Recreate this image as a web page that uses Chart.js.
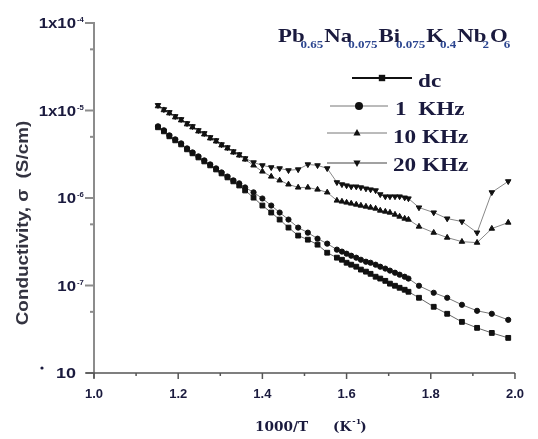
<!DOCTYPE html>
<html>
<head>
<meta charset="utf-8">
<title>Conductivity vs 1000/T</title>
<script src="https://cdn.jsdelivr.net/npm/chart.js@4/dist/chart.umd.min.js"></script>
<style>
	html, body { margin: 0; padding: 0; background: #fff; }
	#chart { display: block; }
</style>
</head>
<body>
<canvas id="chart" width="538" height="439"></canvas>
<script>
// 1000/T (K^-1), same temperatures for every series
const invT = [
	1.152, 1.166, 1.179, 1.193, 1.207, 1.221, 1.234, 1.248, 1.262, 1.276, 1.290, 1.303, 1.317, 1.331, 1.345, 1.359,
	1.379, 1.400, 1.421, 1.441, 1.462, 1.485, 1.508, 1.531, 1.554,
	1.577, 1.589, 1.600, 1.611, 1.623, 1.634, 1.646, 1.657, 1.669, 1.680, 1.692, 1.703, 1.715, 1.726, 1.738, 1.747,
	1.772, 1.807, 1.839, 1.874, 1.910, 1.945, 1.984
];

// conductivity, S/cm
const sigmaDc = [
	6.43e-6, 5.78e-6, 5.07e-6, 4.56e-6, 4.10e-6, 3.60e-6, 3.24e-6, 2.91e-6, 2.62e-6, 2.36e-6, 2.12e-6, 1.91e-6, 1.72e-6, 1.55e-6, 1.39e-6, 1.22e-6,
	1.01e-6, 8.20e-7, 6.82e-7, 5.67e-7, 4.59e-7, 3.72e-7, 3.34e-7, 2.93e-7, 2.37e-7,
	2.08e-7, 1.97e-7, 1.82e-7, 1.73e-7, 1.64e-7, 1.52e-7, 1.44e-7, 1.36e-7, 1.26e-7, 1.20e-7, 1.13e-7, 1.05e-7, 9.93e-8, 9.42e-8, 8.94e-8, 8.48e-8,
	7.24e-8, 5.71e-8, 4.75e-8, 3.84e-8, 3.28e-8, 2.87e-8, 2.52e-8
];
const sigma1k = [
	6.60e-6, 5.94e-6, 5.20e-6, 4.68e-6, 4.21e-6, 3.69e-6, 3.32e-6, 2.99e-6, 2.69e-6, 2.42e-6, 2.18e-6, 1.96e-6, 1.76e-6, 1.59e-6, 1.47e-6, 1.32e-6,
	1.16e-6, 9.87e-7, 8.20e-7, 6.82e-7, 5.67e-7, 4.59e-7, 4.02e-7, 3.43e-7, 3.01e-7,
	2.57e-7, 2.44e-7, 2.31e-7, 2.19e-7, 2.08e-7, 1.97e-7, 1.87e-7, 1.82e-7, 1.73e-7, 1.64e-7, 1.56e-7, 1.48e-7, 1.40e-7, 1.33e-7, 1.26e-7, 1.20e-7,
	9.93e-8, 8.26e-8, 7.24e-8, 6.02e-8, 5.14e-8, 4.75e-8, 4.05e-8
];
const sigma10k = [
	1.12e-5, 1.01e-5, 9.30e-6, 8.37e-6, 7.73e-6, 6.96e-6, 6.43e-6, 5.78e-6, 5.34e-6, 4.81e-6, 4.44e-6, 4.00e-6, 3.69e-6, 3.32e-6, 3.07e-6, 2.76e-6,
	2.36e-6, 2.01e-6, 1.76e-6, 1.59e-6, 1.43e-6, 1.32e-6, 1.32e-6, 1.25e-6, 1.16e-6,
	9.36e-7, 9.12e-7, 8.88e-7, 8.65e-7, 8.42e-7, 8.20e-7, 7.99e-7, 7.78e-7, 7.58e-7, 7.19e-7, 7.00e-7, 6.82e-7, 6.47e-7, 6.14e-7, 5.82e-7, 5.67e-7,
	4.72e-7, 4.02e-7, 3.53e-7, 3.17e-7, 3.09e-7, 4.47e-7, 5.24e-7
];
const sigma20k = [
	1.15e-5, 1.03e-5, 9.55e-6, 8.59e-6, 7.94e-6, 7.14e-6, 6.60e-6, 5.94e-6, 5.49e-6, 4.94e-6, 4.56e-6, 4.10e-6, 3.79e-6, 3.41e-6, 3.15e-6, 2.84e-6,
	2.55e-6, 2.36e-6, 2.24e-6, 2.18e-6, 2.07e-6, 2.12e-6, 2.42e-6, 2.36e-6, 2.18e-6,
	1.51e-6, 1.43e-6, 1.39e-6, 1.35e-6, 1.35e-6, 1.32e-6, 1.28e-6, 1.25e-6, 1.22e-6, 1.10e-6, 1.04e-6, 1.04e-6, 1.04e-6, 1.04e-6, 1.01e-6, 9.87e-7,
	7.78e-7, 6.82e-7, 5.82e-7, 5.38e-7, 4.02e-7, 1.16e-6, 1.55e-6
];

const seriesNames = ['dc', '1  KHz', '10 KHz', '20 KHz'];

// axis ticks
const yMajor = [1e-8, 1e-7, 1e-6, 1e-5, 1e-4];
const yMinor = [5e-8, 5e-7, 5e-6, 5e-5];
const yTickBase = ['10', '10', '10', '1x10', '1x10'];
const yTickExp = ['', '-7', '-6', '-5', '-4'];
const xMajor = [1.0, 1.2, 1.4, 1.6, 1.8, 2.0];
const xMinor = [1.1, 1.3, 1.5, 1.7, 1.9];

const formula = [
	['Pb', ''], ['0.65', 'sub'], ['Na', ''], ['0.075', 'sub'], ['Bi', ''], ['0.075', 'sub'],
	['K', ''], ['0.4', 'sub'], ['Nb', ''], ['2', 'sub'], ['O', ''], ['6', 'sub']
];

const INK = '#1a1a3e';
const SANS = '"Liberation Sans", Arial, sans-serif';
const SERIF = '"Liberation Serif", "Times New Roman", serif';

const line = (ctx, x1, y1, x2, y2) => {
	ctx.beginPath();
	ctx.moveTo(x1, y1);
	ctx.lineTo(x2, y2);
	ctx.stroke();
};

// text squeezed/stretched horizontally, the way the figure was scanned
const wideText = (ctx, text, x, y, font, color, sx, align) => {
	ctx.save();
	ctx.font = font;
	ctx.fillStyle = color;
	ctx.textAlign = align || 'left';
	ctx.textBaseline = 'alphabetic';
	ctx.translate(x, y);
	ctx.scale(sx, 1);
	ctx.fillText(text, 0, 0);
	const w = ctx.measureText(text).width * sx;
	ctx.restore();
	return w;
};

const drawMarker = (ctx, style, x, y, r) => {
	ctx.beginPath();
	if (style === 'rect') {
		const s = r * 0.8;
		ctx.rect(x - s, y - s, 2 * s, 2 * s);
	} else if (style === 'circle') {
		ctx.arc(x, y, r, 0, Math.PI * 2);
	} else {
		const dir = style === 'triangleDown' ? -1 : 1;
		ctx.moveTo(x, y - dir * r);
		ctx.lineTo(x + r * 0.9, y + dir * r * 0.6);
		ctx.lineTo(x - r * 0.9, y + dir * r * 0.6);
		ctx.closePath();
	}
	ctx.fill();
};

const legendRows = [
	{ style: 'rect', x1: 352, x2: 412, y: 78, color: '#111', width: 1.8, tx: 418, ty: 87 },
	{ style: 'circle', x1: 330, x2: 388, y: 106, color: '#777', width: 1, tx: 395, ty: 115 },
	{ style: 'triangle', x1: 327, x2: 387, y: 133, color: '#777', width: 1, tx: 393, ty: 143 },
	{ style: 'triangleDown', x1: 327, x2: 387, y: 163, color: '#444', width: 1.2, tx: 393, ty: 171 }
];

const decor = {
	id: 'decor',
	afterDraw(chart) {
		const ctx = chart.ctx;
		const { left, right, top, bottom } = chart.chartArea;
		const xs = chart.scales.x;
		const ys = chart.scales.y;
		ctx.save();

		// y axis and its ticks
		ctx.strokeStyle = '#8c8c8c';
		ctx.lineWidth = 2;
		line(ctx, left, top - 1, left, bottom + 5);
		yMajor.forEach(v => {
			const py = ys.getPixelForValue(v);
			line(ctx, left - 9, py, left, py);
		});
		yMinor.forEach(v => {
			const py = ys.getPixelForValue(v);
			line(ctx, left - 4, py, left, py);
		});

		// x axis and its ticks
		ctx.strokeStyle = '#555';
		ctx.lineWidth = 1.5;
		line(ctx, left - 8, bottom, right, bottom);
		xMajor.forEach(v => {
			const px = xs.getPixelForValue(v);
			line(ctx, px, bottom, px, bottom + 6);
		});
		xMinor.forEach(v => {
			const px = xs.getPixelForValue(v);
			line(ctx, px, bottom, px, bottom + 3);
		});

		// y tick labels with small exponents
		yMajor.forEach((v, i) => {
			const py = ys.getPixelForValue(v);
			wideText(ctx, yTickBase[i], 76, py + 5, `bold ${i === 0 ? 15 : 14}px ${SANS}`, INK, 1.2, 'right');
			if (yTickExp[i]) wideText(ctx, yTickExp[i], 77, py - 1, `bold 7px ${SANS}`, INK, 1.1, 'left');
		});
		ctx.fillStyle = INK;
		ctx.beginPath();
		ctx.arc(42, 368, 1.6, 0, Math.PI * 2);
		ctx.fill();

		// y axis title
		ctx.save();
		ctx.translate(22, 223);
		ctx.rotate(-Math.PI / 2);
		wideText(ctx, 'Conductivity, \u03C3  (S/cm)', 0, 6, `bold 16px ${SANS}`, '#333340', 1.18, 'center');
		ctx.restore();

		// x axis title
		const tf = `bold 13px "DejaVu Serif", serif`;
		wideText(ctx, '1000/T', 255, 431, tf, INK, 1.05);
		let tx = 333;
		tx += wideText(ctx, '(K', tx, 431, tf, INK, 1.05);
		wideText(ctx, '-1', tx + 1, 424, `bold 8px "DejaVu Serif", serif`, INK, 1);
		wideText(ctx, ')', tx + 9, 431, tf, INK, 1.05);

		// compound formula
		let fx = 278;
		formula.forEach(([txt, kind]) => {
			if (kind === 'sub') {
				fx += wideText(ctx, txt, fx - 4, 48, `bold 10px ${SERIF}`, '#2c4690', 1.3) - 3;
			} else {
				fx += wideText(ctx, txt, fx, 42, `bold 19px ${SERIF}`, INK, 1.2);
			}
		});

		// legend
		legendRows.forEach((row, i) => {
			ctx.strokeStyle = row.color;
			ctx.lineWidth = row.width;
			line(ctx, row.x1, row.y, row.x2, row.y);
			ctx.fillStyle = '#111';
			drawMarker(ctx, row.style, (row.x1 + row.x2) / 2, row.y, 4);
			wideText(ctx, seriesNames[i], row.tx, row.ty, `bold 19px ${SERIF}`, INK, 1.22);
		});

		ctx.restore();
	}
};

const makeSeries = (label, values, style, lineColor, radius, rotation) => ({
	label,
	data: invT.map((t, i) => ({ x: t, y: values[i] })),
	borderColor: lineColor,
	borderWidth: 1,
	pointStyle: style,
	pointRotation: rotation || 0,
	pointRadius: radius,
	pointBackgroundColor: '#111',
	pointBorderColor: '#111',
	pointBorderWidth: 1,
	tension: 0,
	clip: false
});

new Chart(document.getElementById('chart'), {
	type: 'line',
	data: {
		datasets: [
			makeSeries(seriesNames[0], sigmaDc, 'rect', '#666', 3.4),
			makeSeries(seriesNames[1], sigma1k, 'circle', '#777', 2.6),
			makeSeries(seriesNames[2], sigma10k, 'triangle', '#888', 3.2),
			makeSeries(seriesNames[3], sigma20k, 'triangle', '#888', 3.2, 180)
		]
	},
	options: {
		responsive: false,
		animation: false,
		devicePixelRatio: 1,
		layout: { padding: { left: 0, right: 11, top: 23, bottom: 0 } },
		plugins: {
			legend: { display: false },
			tooltip: { enabled: false }
		},
		scales: {
			x: {
				type: 'linear',
				min: 1,
				max: 2,
				grid: { display: false, drawTicks: false },
				border: { display: false },
				afterBuildTicks: s => { s.ticks = xMajor.map(value => ({ value })); },
				afterFit: s => { s.height = 66; },
				ticks: {
					padding: 14,
					color: INK,
					font: { family: SANS, size: 13, weight: 'bold' },
					callback: v => v.toFixed(1)
				}
			},
			y: {
				type: 'logarithmic',
				min: 1e-8,
				max: 1e-4,
				grid: { display: false, drawTicks: false },
				border: { display: false },
				afterFit: s => { s.width = 94; },
				ticks: { display: false }
			}
		}
	},
	plugins: [decor]
});
</script>
</body>
</html>
